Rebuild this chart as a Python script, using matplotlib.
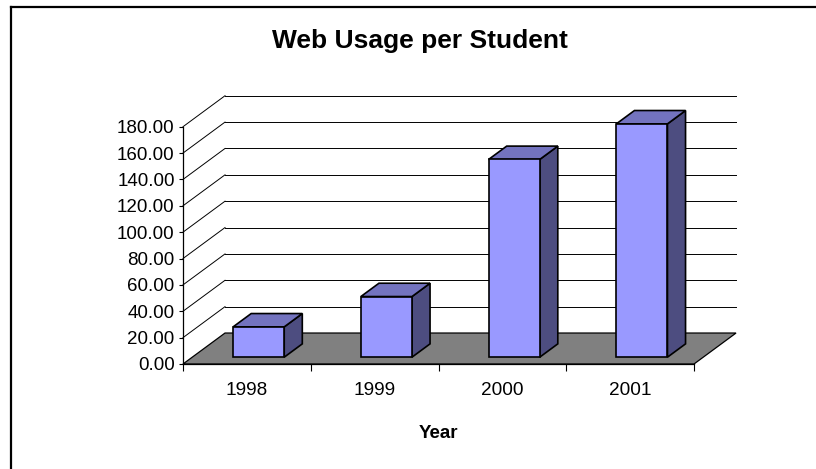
import matplotlib
matplotlib.use("Agg")
import matplotlib.pyplot as plt
from matplotlib.patches import Polygon
from matplotlib.lines import Line2D
import numpy as np

plt.rcParams['font.family'] = ['Liberation Sans', 'DejaVu Sans']

# ---- data ----
years = ["1998", "1999", "2000", "2001"]
usage = [23.0, 46.0, 150.0, 177.0]
y_ticks = [0, 20, 40, 60, 80, 100, 120, 140, 160, 180]
title = "Web Usage per Student"
x_label = "Year"

# ---- style / geometry ----
W, H, DPI = 816, 469, 100
DX, DY = 0.329, 23.5        # depth offset (category units, value units)
D0, D1 = 0.22, 0.65         # bar depth range
BAR_LEFT, BAR_W = 0.32, 0.40
FRONT, TOP, SIDE = "#9999FF", "#7373BF", "#4D4D80"
FLOOR = "#808080"

fig = plt.figure(figsize=(W / DPI, H / DPI), dpi=DPI)
ax = fig.add_axes([0, 0, 1, 1])
ax.set_facecolor("white")

# pixel layout: category 0 at x=183px, 4 at 694px; value 0 at y=364px, 180 at y=126.7px (from top)
n = len(years)
px_per_cat = (694 - 183) / n
px_per_val = (364 - 126.7) / 180.0
ax.set_xlim(-183 / px_per_cat, (W - 183) / px_per_cat)
y0_from_bottom = H - 364
ax.set_ylim(-y0_from_bottom / px_per_val, (H - y0_from_bottom) / px_per_val)


def proj(x, y, d):
    return (x + d * DX, y + d * DY)


# floor
floor = Polygon([proj(0, 0, 0), proj(n, 0, 0), proj(n, 0, 1), proj(0, 0, 1)],
                closed=True, facecolor=FLOOR, edgecolor="black", lw=0.9, zorder=1)
ax.add_patch(floor)

# gridlines (back wall + left wall)
for v in y_ticks[1:]:
    a, b = proj(0, v, 1), proj(n, v, 1)
    ax.plot([a[0], b[0]], [a[1], b[1]], color="black", lw=0.7, zorder=2)
    c = proj(0, v, 0)
    ax.plot([c[0], a[0]], [c[1], a[1]], color="black", lw=0.7, zorder=2)

# bars
for i, v in enumerate(usage):
    xl = i + BAR_LEFT
    xr = xl + BAR_W
    side = [proj(xr, 0, D0), proj(xr, 0, D1), proj(xr, v, D1), proj(xr, v, D0)]
    top = [proj(xl, v, D0), proj(xr, v, D0), proj(xr, v, D1), proj(xl, v, D1)]
    front = [proj(xl, 0, D0), proj(xr, 0, D0), proj(xr, v, D0), proj(xl, v, D0)]
    for pts, col in ((side, SIDE), (top, TOP), (front, FRONT)):
        ax.add_patch(Polygon(pts, closed=True, facecolor=col, edgecolor="black",
                             lw=1.2, joinstyle="miter", zorder=3))

# axes / spines
for s in ("top", "right"):
    ax.spines[s].set_visible(False)
ax.spines["left"].set_position(("data", 0))
ax.spines["left"].set_bounds(0, 180)
ax.spines["bottom"].set_position(("data", 0))
ax.spines["bottom"].set_bounds(0, n)
for s in ("left", "bottom"):
    ax.spines[s].set_color("black")
    ax.spines[s].set_linewidth(0.9)
    ax.spines[s].set_zorder(4)

ax.set_yticks(y_ticks)
ax.set_yticklabels([f"{t:.2f}" for t in y_ticks])
ax.tick_params(axis="y", direction="out", length=3, width=0.8, pad=3, labelsize=13.5)

ax.set_xticks(np.arange(n + 1))
ax.set_xticklabels([""] * (n + 1))
ax.set_xticks(np.arange(n) + 0.5, minor=True)
ax.set_xticklabels(years, minor=True)
ax.tick_params(axis="x", which="major", direction="out", length=5, width=0.8)
ax.tick_params(axis="x", which="minor", length=0, pad=13, labelsize=13.7)

# title & axis label
fig.text(420 / W, 1 - 41 / H, title, ha="center", va="center",
         fontsize=19, fontweight="bold")
fig.text(438 / W, 1 - 433 / H, x_label, ha="center", va="center",
         fontsize=13.5, fontweight="bold")

# chart border (only top and left visible)
bx, by = 11 / W, 1 - 7 / H
fig.add_artist(Line2D([bx, bx], [by, -0.1], transform=fig.transFigure, color="black", lw=1.6))
fig.add_artist(Line2D([bx, 1.1], [by, by], transform=fig.transFigure, color="black", lw=1.6))

fig.savefig("out.png", dpi=DPI)
